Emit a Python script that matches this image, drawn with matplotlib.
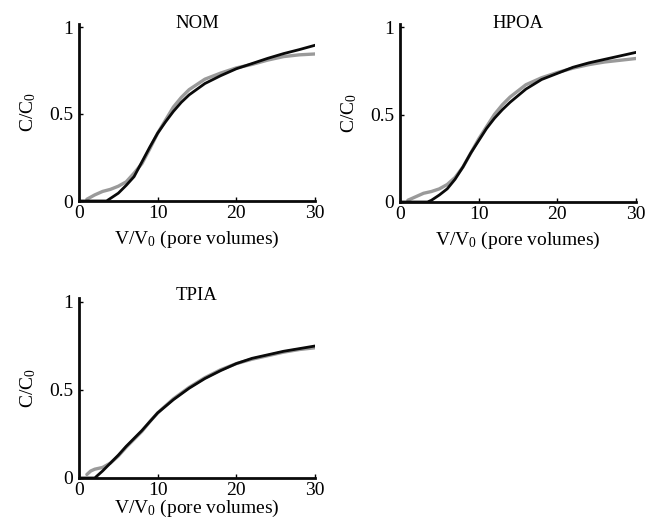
import matplotlib
matplotlib.use("Agg")
import matplotlib.pyplot as plt

plt.rcParams['font.family'] = ['Liberation Serif', 'DejaVu Serif']
plt.rcParams['mathtext.fontset'] = 'custom'
plt.rcParams['mathtext.rm'] = 'Liberation Serif'
plt.rcParams['mathtext.it'] = 'Liberation Serif:italic'

titles = ["NOM", "HPOA", "TPIA"]

# NOM
nom_x_black = [0, 3.5, 4, 5, 6, 7, 8, 9, 10, 11, 12, 13, 14, 16, 18, 20, 22, 24, 26, 28, 30]
nom_y_black = [0, 0, 0.015, 0.045, 0.09, 0.14, 0.225, 0.31, 0.39, 0.455, 0.515, 0.567, 0.61, 0.675, 0.72, 0.76, 0.79, 0.82, 0.847, 0.87, 0.895]
nom_x_gray = [1, 2, 3, 4, 5, 6, 7, 8, 9, 10, 11, 12, 13, 14, 16, 18, 20, 22, 24, 26, 28, 30]
nom_y_gray = [0.01, 0.035, 0.055, 0.067, 0.085, 0.11, 0.16, 0.215, 0.30, 0.39, 0.465, 0.54, 0.595, 0.64, 0.70, 0.735, 0.765, 0.785, 0.81, 0.83, 0.84, 0.845]

# HPOA
hpoa_x_black = [0, 3.5, 4, 5, 6, 7, 8, 9, 10, 11, 12, 13, 14, 16, 18, 20, 22, 24, 26, 28, 30]
hpoa_y_black = [0, 0, 0.01, 0.04, 0.075, 0.13, 0.20, 0.28, 0.35, 0.42, 0.478, 0.527, 0.57, 0.645, 0.70, 0.735, 0.77, 0.795, 0.815, 0.835, 0.855]
hpoa_x_gray = [1, 2, 3, 4, 5, 6, 7, 8, 9, 10, 11, 12, 13, 14, 16, 18, 20, 22, 24, 26, 28, 30]
hpoa_y_gray = [0.01, 0.03, 0.05, 0.06, 0.075, 0.10, 0.14, 0.20, 0.28, 0.36, 0.43, 0.50, 0.555, 0.60, 0.67, 0.71, 0.74, 0.765, 0.785, 0.80, 0.81, 0.82]

# TPIA
tpia_x_black = [0, 2, 3, 4, 5, 6, 7, 8, 9, 10, 12, 14, 16, 18, 20, 22, 24, 26, 28, 30]
tpia_y_black = [0, 0, 0.04, 0.085, 0.13, 0.18, 0.225, 0.27, 0.32, 0.37, 0.445, 0.51, 0.565, 0.61, 0.65, 0.68, 0.70, 0.72, 0.735, 0.75]
tpia_x_gray = [1, 1.5, 2, 3, 4, 5, 6, 7, 8, 9, 10, 12, 14, 16, 18, 20, 22, 24, 26, 28, 30]
tpia_y_gray = [0.02, 0.04, 0.05, 0.06, 0.085, 0.125, 0.175, 0.22, 0.265, 0.32, 0.37, 0.45, 0.515, 0.57, 0.615, 0.65, 0.675, 0.695, 0.715, 0.73, 0.74]

xticks = [0, 10, 20, 30]
xticklabels = ["0", "10", "20", "30"]
yticks = [0, 0.5, 1]
yticklabels = ["0", "0.5", "1"]

fig = plt.figure(figsize=(6.45, 5.27), dpi=100)
W, H = 645.0, 527.0

def make_ax(left_px, right_px, y0_px, y1_px, ytop=1.02):
    unit = y0_px - y1_px
    top_px = y0_px - ytop * unit
    return fig.add_axes([left_px / W, 1 - y0_px / H, (right_px - left_px) / W, (y0_px - top_px) / H]), ytop

panels = [
    (79, 315, 201, 27, nom_x_gray, nom_y_gray, nom_x_black, nom_y_black, 0.975, 5),
    (400, 636, 202, 27, hpoa_x_gray, hpoa_y_gray, hpoa_x_black, hpoa_y_black, 0.975, 5),
    (79, 315, 478, 302, tpia_x_gray, tpia_y_gray, tpia_x_black, tpia_y_black, 0.99, -1),
]

for i, (l, r, y0, y1, gx, gy, bx, by, ty, lp) in enumerate(panels):
    ax, ytop = make_ax(l, r, y0, y1)
    ax.plot(gx, gy, color='#9a9a9a', lw=2.4, solid_capstyle='round', solid_joinstyle='round', zorder=2)
    ax.plot(bx, by, color='#0a0a0a', lw=2.0, solid_joinstyle='round', zorder=3)
    ax.set_xlim(0, 30)
    ax.set_ylim(0, ytop)
    ax.spines['top'].set_visible(False)
    ax.spines['right'].set_visible(False)
    for s in ['left', 'bottom']:
        ax.spines[s].set_linewidth(2.0)
        ax.spines[s].set_color('#0a0a0a')
    ax.set_xticks(xticks)
    ax.set_xticklabels(xticklabels)
    ax.set_yticks(yticks)
    ax.set_yticklabels(yticklabels)
    ax.tick_params(direction='in', length=3, width=1, labelsize=14)
    ax.tick_params(axis='x', pad=3)
    ax.tick_params(axis='y', pad=4)
    ax.set_title(titles[i], fontsize=13.5, y=ty, pad=0)
    ax.set_xlabel(r'V/V$_0$ (pore volumes)', fontsize=14, labelpad=lp)
    ax.set_ylabel(r'C/C$_0$', fontsize=14, labelpad=8)
    ax.patch.set_visible(False)

fig.savefig('out.png', dpi=100)
